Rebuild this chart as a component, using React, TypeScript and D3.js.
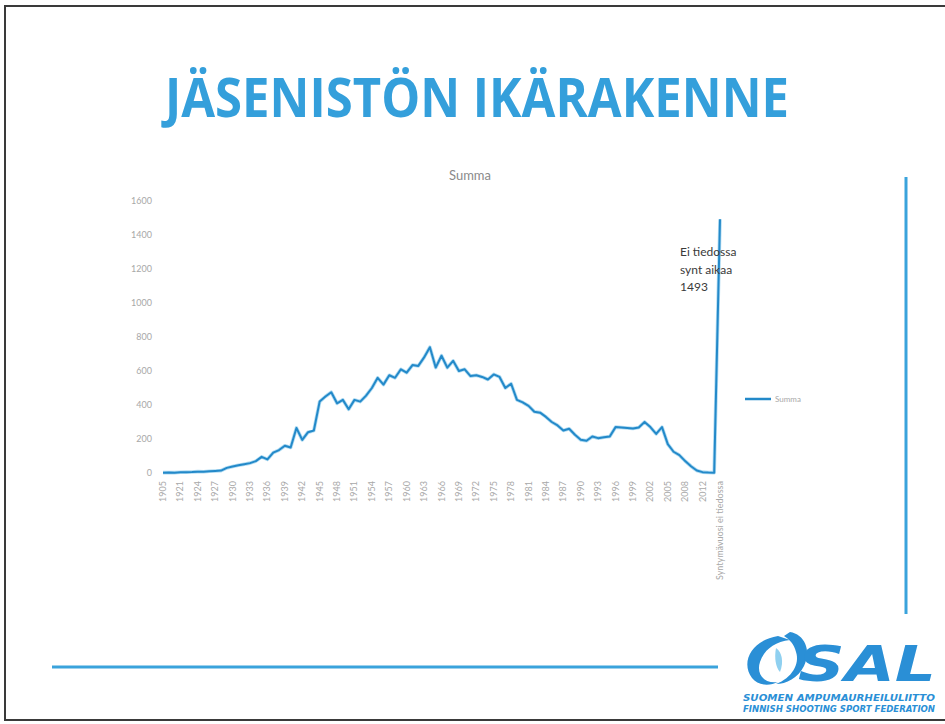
import React from "react";
import * as d3 from "d3";

const categories: string[] = [
  "1905", "1915", "1919", "1921", "1922", "1923", "1924", "1925", "1926", "1927",
  "1928", "1929", "1930", "1931", "1932", "1933", "1934", "1935", "1936", "1937",
  "1938", "1939", "1940", "1941", "1942", "1943", "1944", "1945", "1946", "1947",
  "1948", "1949", "1950", "1951", "1952", "1953", "1954", "1955", "1956", "1957",
  "1958", "1959", "1960", "1961", "1962", "1963", "1964", "1965", "1966", "1967",
  "1968", "1969", "1970", "1971", "1972", "1973", "1974", "1975", "1976", "1977",
  "1978", "1979", "1980", "1981", "1982", "1983", "1984", "1985", "1986", "1987",
  "1988", "1989", "1990", "1991", "1992", "1993", "1994", "1995", "1996", "1997",
  "1998", "1999", "2000", "2001", "2002", "2003", "2004", "2005", "2006", "2007",
  "2008", "2009", "2010", "2012", "2013", "2014", "Syntymävuosi ei tiedossa",
];

const summa: number[] = [
  2, 3, 2, 4, 5, 6, 8, 7, 10, 12,
  14, 30, 38, 45, 52, 58, 70, 95, 80, 120,
  135, 160, 150, 265, 195, 240, 250, 420, 450, 475,
  410, 430, 375, 430, 420, 455, 500, 560, 520, 575,
  560, 610, 590, 635, 630, 680, 740, 620, 690, 620,
  660, 600, 610, 570, 575, 565, 550, 580, 565, 500,
  525, 430, 415, 395, 360, 355, 330, 300, 280, 250,
  260, 225, 195, 190, 215, 205, 210, 215, 270, 268,
  265, 262, 268, 300, 270, 230, 270, 170, 125, 105,
  70, 40, 15, 5, 3, 2, 1493,
];

const yTicks: number[] = [0, 200, 400, 600, 800, 1000, 1200, 1400, 1600];
const annotationLines: string[] = ["Ei tiedossa", "synt aikaa", "1493"];

const W = 945;
const H = 724;

export default function App() {
  const x = d3.scalePoint<string>().domain(categories).range([163, 720]).padding(0);
  const y = d3.scaleLinear().domain([0, 1600]).range([473, 201]);
  const pts: [number, number][] = categories.map((c, i) => [x(c) as number, y(summa[i])]);
  const line = d3.line<[number, number]>().x((d) => d[0]).y((d) => d[1])(pts) || "";
  const labelFont = "Lato, 'Open Sans', sans-serif";
  const blue = "#349fdb";

  return (
    <svg
      width={W}
      height={H}
      viewBox={`0 0 ${W} ${H}`}
      style={{ position: "absolute", left: 0, top: 0, background: "#fff" }}
    >
      <rect x={0} y={0} width={W} height={H} fill="#fff" />
      {/* frame */}
      <rect x={5} y={6} width={W + 10} height={714} fill="none" stroke="#3a3a3a" strokeWidth={2} />

      {/* title */}
      <text
        x={477}
        y={117}
        textAnchor="middle"
        fontFamily="'Open Sans', 'Noto Sans', sans-serif"
        fontWeight={700}
        fontSize={54}
        fill={blue}
        textLength={624}
        lengthAdjust="spacingAndGlyphs"
      >
        JÄSENISTÖN IKÄRAKENNE
      </text>

      {/* chart title */}
      <text x={470} y={180} textAnchor="middle" fontFamily={labelFont} fontSize={13} fill="#8a8a8a">
        Summa
      </text>

      {/* y axis labels */}
      {yTicks.map((t) => (
        <text
          key={t}
          x={152}
          y={y(t) + 3}
          textAnchor="end"
          fontFamily={labelFont}
          fontSize={9}
          fill="#a8a8a8"
        >
          {t}
        </text>
      ))}

      {/* x axis labels */}
      {categories.map((c, i) =>
        i % 3 === 0 ? (
          <text
            key={c}
            transform={`translate(${(x(c) as number) + 3},481) rotate(-90)`}
            textAnchor="end"
            fontFamily={labelFont}
            fontSize={9}
            fill="#a8a8a8"
          >
            {c}
          </text>
        ) : null
      )}

      {/* data line */}
      <path d={line} fill="none" stroke="#7cc3ea" strokeWidth={3.6} strokeLinejoin="round" opacity={0.6} />
      <path d={line} fill="none" stroke="#2389c9" strokeWidth={2} strokeLinejoin="round" />

      {/* annotation */}
      {annotationLines.map((s, i) => (
        <text
          key={s}
          x={680}
          y={256 + i * 17.5}
          fontFamily={labelFont}
          fontSize={12}
          fill="#3a3a3a"
        >
          {s}
        </text>
      ))}

      {/* legend */}
      <line x1={745} x2={771} y1={399} y2={399} stroke="#2389c9" strokeWidth={2.5} />
      <text x={775} y={402} fontFamily={labelFont} fontSize={8} fill="#a8a8a8">
        Summa
      </text>

      {/* decorative lines */}
      <line x1={906} x2={906} y1={177} y2={614} stroke="#3aa3dc" strokeWidth={3} />
      <line x1={52} x2={718} y1={667} y2={667} stroke="#3aa3dc" strokeWidth={3} />

      {/* SAL logo */}
      <g>
        <path
          d="M778,636 C752,640 740,662 752,678 C758,686 770,686 778,682 C764,684 756,674 760,662 C764,650 774,642 790,640 Z"
          fill="#2a8fd6"
        />
        <path
          d="M790,632 C804,634 812,650 804,666 C798,678 786,684 776,684 C792,678 800,664 796,652 C794,644 790,640 784,636 Z"
          fill="#2a8fd6"
        />
        <path
          d="M776,648 C782,652 784,662 780,672 C776,668 774,658 776,648 Z"
          fill="#8fd0f0"
        />
        <text
          x={798}
          y={681}
          fontFamily="'DejaVu Sans', 'Liberation Sans', sans-serif"
          fontWeight={700}
          fontStyle="italic"
          fontSize={50}
          fill="#2a8fd6"
          textLength={138}
          lengthAdjust="spacingAndGlyphs"
        >
          SAL
        </text>
        <text
          x={743}
          y={701}
          fontFamily="'DejaVu Sans', sans-serif"
          fontWeight={700}
          fontStyle="italic"
          fontSize={8}
          fill="#2a8fd6"
          textLength={192}
          lengthAdjust="spacingAndGlyphs"
        >
          SUOMEN AMPUMAURHEILULIITTO
        </text>
        <text
          x={743}
          y={712}
          fontFamily="'DejaVu Sans', sans-serif"
          fontWeight={700}
          fontStyle="italic"
          fontSize={8}
          fill="#2a8fd6"
          textLength={192}
          lengthAdjust="spacingAndGlyphs"
        >
          FINNISH SHOOTING SPORT FEDERATION
        </text>
      </g>
    </svg>
  );
}
